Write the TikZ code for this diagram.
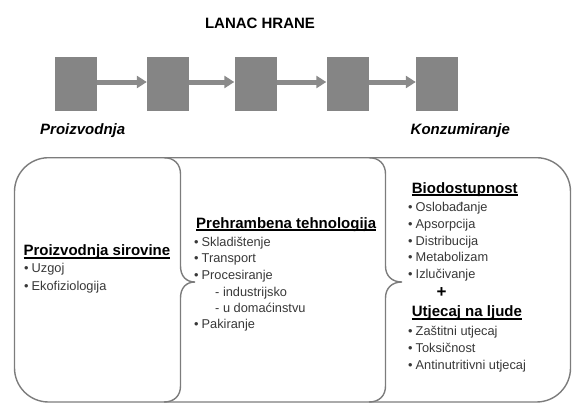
\documentclass[tikz,border=0pt]{standalone}
\usepackage{fontspec}
\setmainfont{Liberation Sans}
\usetikzlibrary{arrows.meta}
\definecolor{boxgray}{HTML}{858585}
\definecolor{arrgray}{HTML}{8A8A8A}
\definecolor{linegray}{HTML}{7C7C7C}
\definecolor{itemgray}{HTML}{383838}
\newcommand\hdul[1]{\setbox0\hbox{#1}\rlap{\rule[-2.8pt]{\wd0}{1.8pt}}\box0}
\newcommand\bul{\makebox[7.5pt][l]{\textbullet}}
\begin{document}
\begin{tikzpicture}[x=1pt,y=-1pt,
  sq/.style={fill=boxgray,minimum width=42pt,minimum height=54pt,inner sep=0pt,draw=none},
  flow/.style={draw=arrgray,line width=5pt,-{Triangle[length=10pt,width=12pt]}},
  outl/.style={draw=linegray,line width=1.4pt},
  hd/.style={anchor=base west,inner sep=0pt,font=\fontsize{15}{18}\selectfont\bfseries},
  itm/.style={anchor=base west,inner sep=0pt,font=\fontsize{12.8}{15}\selectfont,text=itemgray},
  ends/.style={anchor=base west,inner sep=0pt,font=\fontsize{15}{18}\selectfont\bfseries\itshape},
]
\useasboundingbox (0,0) rectangle (572,404);

% title
\node[anchor=base,inner sep=0pt,font=\fontsize{15}{18}\selectfont\bfseries] (title) at (260,28.5) {LANAC HRANE};

% chain
\node[sq] (s1) at (76,84) {};
\node[sq] (s2) at (168,84) {};
\node[sq] (s3) at (255.5,84) {};
\node[sq] (s4) at (347.5,84) {};
\node[sq] (s5) at (437,84) {};
\draw[flow] ([yshift=2pt]s1.east) -- ([yshift=2pt]s2.west);
\draw[flow] ([yshift=2pt]s2.east) -- ([yshift=2pt]s3.west);
\draw[flow] ([yshift=2pt]s3.east) -- ([yshift=2pt]s4.west);
\draw[flow] ([yshift=2pt]s4.east) -- ([yshift=2pt]s5.west);

\node[ends] (prod) at (40,134) {Proizvodnja};
\node[ends] (kons) at (410.5,134) {Konzumiranje};

% outline
\draw[outl,rounded corners=34pt] (14.5,157.7) rectangle (570.5,402);
\draw[outl] (164,157.7) .. controls (174,157.7) and (180.5,164) .. (180.5,174)
  -- (180.5,266) .. controls (180.5,276) and (186,282) .. (195,282)
  .. controls (186,282) and (180.5,288) .. (180.5,298)
  -- (180.5,386) .. controls (180.5,396) and (174,402) .. (164,402);
\draw[outl] (369,157.7) .. controls (379,157.7) and (385.5,164) .. (385.5,174)
  -- (385.5,266) .. controls (385.5,276) and (392,282) .. (402,282)
  .. controls (392,282) and (385.5,288) .. (385.5,298)
  -- (385.5,386) .. controls (385.5,396) and (379,402) .. (369,402);

% left block
\node[hd] (h1) at (23.3,255.7) {\hdul{Proizvodnja sirovine}};
\node[itm] (l1) at (24,272.3) {\bul Uzgoj};
\node[itm] (l2) at (24,290) {\bul Ekofiziologija};

% middle block
\node[hd] (h2) at (196,228.3) {\hdul{Prehrambena tehnologija}};
\node[itm] (m1) at (194,246) {\bul Skladištenje};
\node[itm] (m2) at (194,262.7) {\bul Transport};
\node[itm] (m3) at (194,279.3) {\bul Procesiranje};
\node[itm] (m4) at (215,296) {- industrijsko};
\node[itm] (m5) at (215,312.7) {- u domaćinstvu};
\node[itm] (m6) at (194,328.3) {\bul Pakiranje};

% right block
\node[hd] (h3) at (411.7,193.3) {\hdul{Biodostupnost}};
\node[itm] (r1) at (408,211.7) {\bul Oslobađanje};
\node[itm] (r2) at (408,228.3) {\bul Apsorpcija};
\node[itm] (r3) at (408,245) {\bul Distribucija};
\node[itm] (r4) at (408,261.7) {\bul Metabolizam};
\node[itm] (r5) at (408,278.3) {\bul Izlučivanje};
\node[inner sep=0pt,font=\fontsize{17}{18}\selectfont\bfseries] (plus) at (441.7,292.7) {+};
\node[hd] (h4) at (411.7,316.7) {\hdul{Utjecaj na ljude}};
\node[itm] (r6) at (408,335) {\bul Zaštitni utjecaj};
\node[itm] (r7) at (408,352) {\bul Toksičnost};
\node[itm] (r8) at (408,369) {\bul Antinutritivni utjecaj};
\end{tikzpicture}
\end{document}
